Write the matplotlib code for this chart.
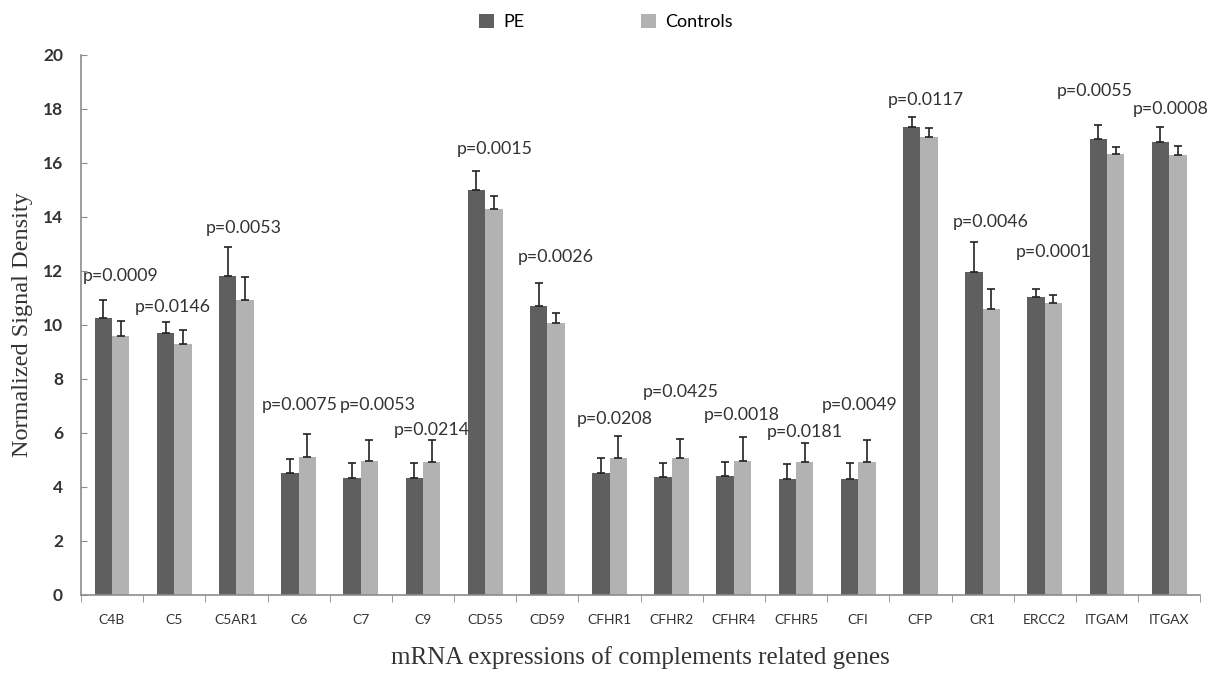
import matplotlib

matplotlib.use("Agg")
import matplotlib.pyplot as plt
import numpy as np

genes = ["C4B", "C5", "C5AR1", "C6", "C7", "C9", "CD55", "CD59", "CFHR1", "CFHR2",
         "CFHR4", "CFHR5", "CFI", "CFP", "CR1", "ERCC2", "ITGAM", "ITGAX"]
pe_mean = [10.25, 9.7, 11.8, 4.52, 4.35, 4.35, 15.0, 10.7, 4.52, 4.37,
           4.4, 4.3, 4.3, 17.33, 11.96, 11.04, 16.88, 16.78]
pe_err = [0.68, 0.4, 1.1, 0.52, 0.54, 0.55, 0.7, 0.85, 0.55, 0.52,
          0.53, 0.55, 0.59, 0.37, 1.1, 0.29, 0.52, 0.55]
ctrl_mean = [9.58, 9.3, 10.93, 5.11, 4.96, 4.93, 14.3, 10.07, 5.07, 5.07,
             4.96, 4.93, 4.93, 16.96, 10.6, 10.8, 16.33, 16.3]
ctrl_err = [0.57, 0.5, 0.83, 0.85, 0.78, 0.81, 0.48, 0.37, 0.82, 0.71,
            0.89, 0.7, 0.81, 0.34, 0.73, 0.3, 0.27, 0.33]
p_values = ["0.0009", "0.0146", "0.0053", "0.0075", "0.0053", "0.0214", "0.0015", "0.0026",
            "0.0208", "0.0425", "0.0018", "0.0181", "0.0049", "0.0117", "0.0046", "0.0001",
            "0.0055", "0.0008"]

# where the p-value labels sit (data y, x shift in category units)
label_y = [11.8, 10.67, 13.6, 7.04, 7.04, 6.1, 16.5, 12.5, 6.5, 7.5,
           6.67, 6.04, 7.04, 18.33, 13.8, 12.7, 18.67, 18.0]
label_dx = [0.13, -0.03, 0.11, 0.02, 0.27, 0.14, 0.16, 0.14, 0.08, 0.14,
            0.13, 0.14, 0.03, 0.08, 0.13, 0.14, -0.19, 0.03]

PE_COLOR = "#5f5f5f"
CTRL_COLOR = "#b2b2b2"
AXIS_COLOR = "#8c8c8c"
SANS = "Lato"
SERIF = "Liberation Serif"

fig = plt.figure(figsize=(12.12, 6.73), dpi=100)
ax = fig.add_axes([0.0668, 0.1159, 0.9235, 0.8024])

x = np.arange(len(genes))
width = 0.28
zeros = np.zeros(len(genes))
ax.bar(x - width / 2, pe_mean, width, color=PE_COLOR, label="PE")
ax.bar(x + width / 2, ctrl_mean, width, color=CTRL_COLOR, label="Controls")
ax.errorbar(x - width / 2, pe_mean, yerr=[zeros, pe_err], fmt="none", ecolor="#222222",
            elinewidth=1.2, capsize=3.2, capthick=1.2)
ax.errorbar(x + width / 2, ctrl_mean, yerr=[zeros, ctrl_err], fmt="none", ecolor="#222222",
            elinewidth=1.2, capsize=3.2, capthick=1.2)

for i, p in enumerate(p_values):
    ax.text(x[i] + label_dx[i], label_y[i], f"p={p}", ha="center", va="center",
            fontsize=12.8, family=SANS, color="#333333")

ax.set_xlim(-0.5, len(genes) - 0.5)
ax.set_ylim(0, 20)
ax.set_yticks(range(0, 21, 2))
ax.tick_params(axis="y", direction="in", length=4, color=AXIS_COLOR, labelsize=12.5,
               labelcolor="#333333", pad=13)
for lab in ax.get_yticklabels():
    lab.set_family(SANS)
    lab.set_fontweight("bold")

ax.set_xticks(x)
ax.set_xticklabels(genes, family=SANS, fontsize=10, color="#333333")
ax.tick_params(axis="x", length=0, pad=14)
ax.set_xticks(np.arange(-0.5, len(genes)), minor=True)
ax.tick_params(axis="x", which="minor", direction="out", length=5, color=AXIS_COLOR)

for side in ["top", "right"]:
    ax.spines[side].set_visible(False)
for side in ["left", "bottom"]:
    ax.spines[side].set_color(AXIS_COLOR)
    ax.spines[side].set_linewidth(1.2)

ax.set_ylabel("Normalized Signal Density", family=SERIF, fontsize=17.5, color="#333333", labelpad=7)
ax.set_xlabel("mRNA expressions of complements related genes", family=SERIF, fontsize=18,
              color="#333333", labelpad=14)

fig.legend(loc="center", bbox_to_anchor=(0.5, 1 - 22 / 673), ncol=2, frameon=False,
           prop={"family": SANS, "size": 13}, handlelength=0.8, handleheight=0.8,
           handletextpad=0.5, columnspacing=6.5)

fig.savefig("out.png", dpi=100)
